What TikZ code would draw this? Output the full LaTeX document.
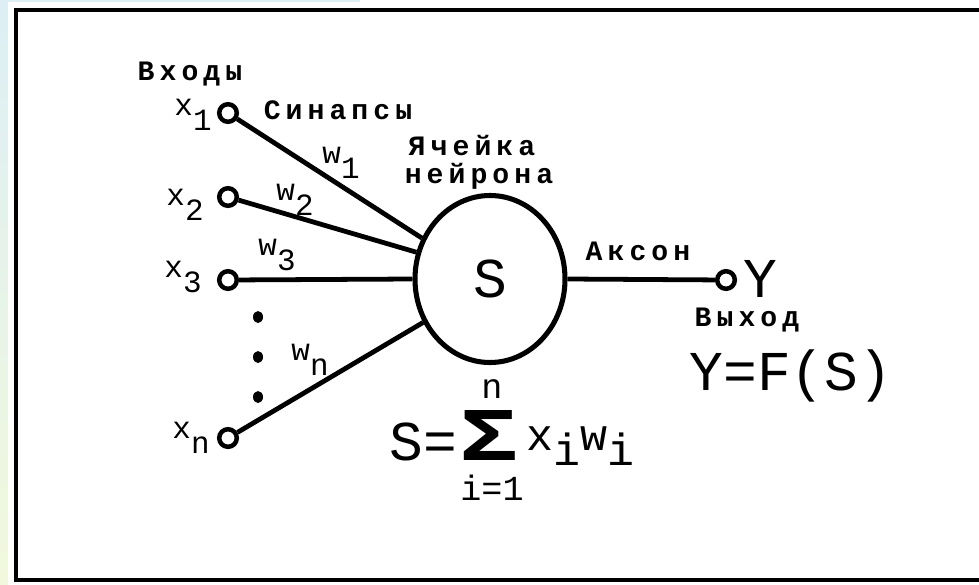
\documentclass[tikz,border=0pt]{standalone}
\usepackage{fontspec}
\usepackage{tikz}
\usetikzlibrary{shapes.geometric}
\newfontfamily\monofont{Liberation Mono}
\newfontfamily\labelfont[LetterSpace=18]{Liberation Mono}
\definecolor{slideblue}{HTML}{DDEFF5}
\definecolor{slideyellow}{HTML}{F1F8DC}
\newcommand{\dn}[1]{\raisebox{-11pt}{#1}}

\begin{document}
\begin{tikzpicture}[
  x=.25mm,y=-.25mm,
  wire/.style={line width=3.4pt,draw=black},
  terminal/.style={circle,draw=black,line width=3.2pt,fill=white,
    minimum size=4.4mm,inner sep=0pt},
  lab/.style={inner sep=0pt,anchor=base,
    font=\labelfont\bfseries\fontsize{20}{22}\selectfont},
  sym/.style={inner sep=0pt,anchor=base,
    font=\monofont\fontsize{22}{24}\selectfont},
  limit/.style={inner sep=0pt,anchor=base,
    font=\monofont\fontsize{25}{28}\selectfont},
  term/.style={inner sep=0pt,anchor=base,
    font=\monofont\fontsize{32}{36}\selectfont},
  big/.style={inner sep=0pt,anchor=base,text depth=0pt,
    font=\monofont\fontsize{40}{44}\selectfont}
]
\useasboundingbox (0,0) rectangle (979,584);
% Slide background strips and the open frame.
\shade[top color=slideblue,bottom color=slideyellow] (0,0) rectangle (8,584);
\fill[slideblue] (8,0) rectangle (360,2);
\draw[line width=1mm] (979,10) -- (16,10) -- (16,580) -- (979,580);

% The cell body with its summed input.
\node[ellipse,draw=black,line width=3.6pt,minimum width=37.5mm,
  minimum height=41.75mm,inner sep=0pt,
  font=\monofont\fontsize{40}{44}\selectfont] (neuron) at (490,279) {S};
\node[lab] (cell-1) at (472,155) {Ячейка};
\node[lab] (cell-2) at (479,183) {нейрона};

% Inputs, their weights and the synapse lines.
\node[lab] (inputs) at (190,80) {Входы};
\node[lab] (synapses) at (338,119) {Синапсы};
\foreach \i/\y in {1/113,2/197,3/280} {
  \node[terminal] (in-\i) at (228,\y) {};
}
\node[terminal] (in-n) at (228,438) {};
\foreach \i/\x/\y in {1/193/115,2/185/205,3/183/277,n/191/438} {
  \node[sym] (x-\i) at (\x,\y) {x\dn{\i}};
}
\foreach \i/\x/\y in {1/341/163,2/295/200,3/277/255,n/310/360} {
  \node[sym] (w-\i) at (\x,\y) {w\dn{\i}};
}
\draw[wire] (in-1) -- (neuron.149);
\draw[wire] (in-2) -- (neuron.160);
\draw[wire] (in-3) -- (neuron.west);
\draw[wire] (in-n) -- (neuron.213);
\foreach \y in {317,357,397} {
  \fill (258,\y) ellipse (5 and 6);
}

% Axon and output.
\node[terminal] (out) at (726,280) {};
\draw[wire] (neuron.east) -- (out);
\node[lab] (axon) at (638,260) {Аксон};
\node[big] (y-label) at (760,297) {Y};
\node[lab] (output) at (747,326) {Выход};
\node[big] (transfer) at (791,390) {Y=F(S)};

% Weighted sum below the cell.
\node[big] (sum-lhs) at (423,460) {S=};
\node[inner sep=0pt,anchor=base,text depth=0pt,
  font=\monofont\bfseries\fontsize{54}{56}\selectfont] (sigma)
  at (489,460) {\scalebox{1.3}[1]{Σ}};
\node[limit] (sum-top) at (492,398) {n};
\node[limit] (sum-bottom) at (492,500) {i=1};
\node[term] (sum-terms) at (580,450) {x\dn{i}w\dn{i}};
\end{tikzpicture}
\end{document}
